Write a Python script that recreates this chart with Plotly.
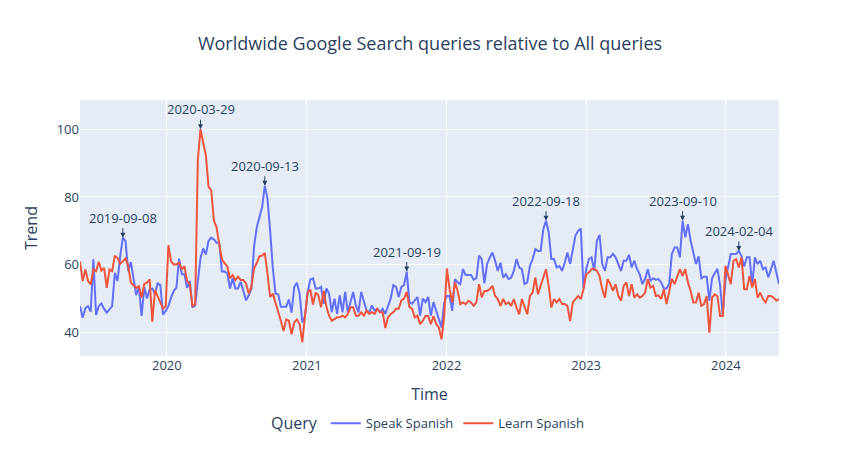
import pandas as pd
import plotly.graph_objects as go

start_date = "2019-05-19"

speak_spanish = [
    47.8, 44.4, 47.2, 47.8, 46.2, 61.6, 45.2, 47.8, 48.6, 47,
    45.9, 46.7, 47.8, 57.6, 55.2, 62.5, 68, 67, 58.1, 60.8,
    55.2, 51.1, 53.4, 44.9, 53.4, 50.1, 52.7, 53, 51.5, 54.5,
    54, 45.3, 46.4, 47.8, 50.3, 52.3, 53.2, 61.8, 57.2, 57.2,
    53.2, 55.2, 47.4, 48, 55.2, 62, 64.8, 63, 67, 68,
    67.5, 66.5, 66.5, 58, 58, 57.5, 53, 56, 53, 53,
    55, 52, 49.5, 51, 53, 65.5, 71, 74, 77, 83.3,
    79.5, 70, 59, 51.5, 51.3, 47.6, 47.6, 47.6, 49.8, 45.9,
    53.5, 54.7, 51.5, 43, 44.7, 52, 55.7, 56, 53, 53,
    53.5, 48.5, 53, 51.5,
    46, 50, 45.5, 51, 46, 52, 46, 49, 52, 48,
    46, 52, 49, 46.5, 46, 48, 46.5, 47, 46, 47,
    45.5, 48, 50, 54, 53.5, 50.5, 53.5, 54, 58, 49,
    48.5, 49.5, 50.5, 45, 50, 49, 50.5, 45, 49, 46.4,
    43.9, 41.5, 48.9, 50.8, 50.8, 46.4, 55.8,
    54.8, 54.3, 58.7, 57, 57, 57, 55.6, 56, 62.7, 61.7,
    54.5, 60.2, 62.2, 63.6, 61.2, 58.2, 60.6, 56.2, 57.2, 55.8,
    56.2, 58.2, 61.7, 59.2, 58.7, 54.3, 54.8, 59.7, 61.7, 64.6,
    64.1, 64.1, 70.5, 73, 69.6, 61.7, 61.7, 59.2, 59.7, 58.2,
    60.6, 63.6, 60.2, 64.1, 68.6, 70, 70.7, 53, 58.7, 61.7,
    62.2, 58.2, 67.1, 68.8, 60.2, 58.2,
    62.2, 62.2, 63.2, 62.2, 60.2, 58.2, 61.2, 61.2, 62.9, 59.2,
    61.2, 58.7, 57.2, 54.3, 55.8, 58.7, 55.3, 56, 55.6, 55.8,
    54.8, 53, 53, 54.3, 63.2, 65.1, 65.1, 62.2, 73, 68.1,
    72, 67.1, 63.6, 60.2, 62.5, 56, 56.5, 56.5, 49.4, 56,
    57.5, 58.8, 54, 45, 55.5, 59.5, 63.2, 63.2, 63.2, 64.1,
    62.5, 59.5, 62.2, 62.2, 54.2, 62.2, 60.2, 61.2, 58.7, 59.2,
    56.3, 58.7, 61.2, 57.7, 54.3,
]

learn_spanish = [
    61, 55.2, 58.6, 55.2, 54.2, 58.6, 58.1, 60.9, 58.3, 59.1,
    53.2, 58.6, 58.1, 62.7, 62, 60.3, 61, 61.9, 59.6, 54.7,
    54, 53.2, 53.7, 50.3, 54.4, 54.7, 55.7, 43.2, 52.5, 50.8,
    48.8, 47.1, 47.8, 65.8, 61, 60.1, 60.1, 60.6, 58.6, 59.6,
    55.2, 54.2, 47.8, 48.3, 91, 100, 96, 92.3, 83, 82,
    73, 71, 66, 61.5, 60.5, 59.5, 56, 57, 55.5, 56.5,
    55.5, 55.5, 54.5, 51.5, 53.5, 59, 60.5, 62.5, 62.7, 63.5,
    57.5, 50.5, 51.5, 49, 46, 43.5, 40.5, 43.9, 43.5, 39.5,
    43, 43.9, 42.5, 37.2, 44.9, 51.8, 52.7, 48.3, 51.8, 51,
    47.5, 52.3, 47.8, 45,
    43.5, 44, 44.5, 44.5, 45, 44.5, 45.5, 47.5, 47.5, 45,
    45, 46, 45, 46.5, 45.5, 46, 45.5, 47, 46, 46,
    41.3, 44.5, 45.5, 46, 47, 47, 49.5, 50, 52, 47.5,
    47, 44.5, 45, 42.5, 43.5, 44.9, 44.9, 42.5, 44.9, 42.5,
    41.5, 38, 45, 58.9, 52.8, 48.9, 54.8,
    52.3, 48.4, 48.9, 48.4, 49.4, 48.9, 47.9, 48.9, 54.3, 50.4,
    52.3, 52.3, 52.8, 53.8, 50.8, 49.9, 47.9, 49.9, 48.4, 48.9,
    47.9, 49.9, 47.4, 45.4, 49.9, 47.9, 45.4, 50.8, 51.8, 56.3,
    51.3, 53.8, 56.3, 58.7, 53.8, 47.4, 49.9, 48.9, 49.9, 48.4,
    48.4, 47.9, 43.4, 48.9, 49.9, 50.8, 49.9, 52.8, 57.2, 57.7,
    58.7, 58.9, 58.2, 56.7, 52.8, 50.3,
    55.8, 54.3, 52.3, 54.3, 50.8, 49.4, 53.8, 54.8, 50.8, 54.3,
    50.3, 51.3, 50.3, 50.8, 51.8, 55.8, 53.3, 53.8, 50.8, 51,
    49.9, 52.8, 48.4, 51.8, 55.8, 54.3, 56.7, 58.7, 56.7, 58.7,
    54.8, 52.3, 48.9, 48.9, 51.8, 47.9, 48.4, 50.8, 40, 50.3,
    51.3, 50.8, 44.9, 44.9, 59.7, 56.7, 54.3, 61.2, 61.7, 59.2,
    62.2, 52.8, 52.8, 56.7, 53.3, 55.8, 50.3, 51.8, 49.9, 48.9,
    50.8, 50.8, 50.3, 49.4, 49.9,
]

dates = pd.date_range(start_date, periods=len(speak_spanish), freq="7D")

peak_dates = ["2019-09-08", "2020-03-29", "2020-09-13", "2021-09-19",
              "2022-09-18", "2023-09-10", "2024-02-04"]
peak_series = ["Speak Spanish", "Learn Spanish", "Speak Spanish", "Speak Spanish",
               "Speak Spanish", "Speak Spanish", "Speak Spanish"]

series = {"Speak Spanish": speak_spanish, "Learn Spanish": learn_spanish}

fig = go.Figure()
for name, vals in series.items():
    fig.add_trace(go.Scatter(x=dates, y=vals, mode="lines", name=name))

date_index = {d.strftime("%Y-%m-%d"): i for i, d in enumerate(dates)}
for d, s in zip(peak_dates, peak_series):
    i = date_index[d]
    fig.add_annotation(x=dates[i], y=series[s][i], text=d, showarrow=True,
                       arrowhead=2, arrowsize=1, arrowwidth=1, ax=0, ay=-20)

fig.update_layout(
    template="plotly",
    width=860, height=450,
    font=dict(family='"Open Sans", verdana, arial, sans-serif', size=13),
    title=dict(text="Worldwide Google Search queries relative to All queries", x=0.5, xanchor="center"),
    xaxis_title="Time",
    yaxis_title="Trend",
    yaxis=dict(range=[33.1, 108.6]),
    legend=dict(title_text="Query", orientation="h", x=0.5, xanchor="center", y=-0.2, yanchor="top"),
    margin=dict(l=80, r=81, t=100, b=93),
)

fig.write_html("out.html", config={"displayModeBar": False},
               post_script="document.body.style.margin='0';")
